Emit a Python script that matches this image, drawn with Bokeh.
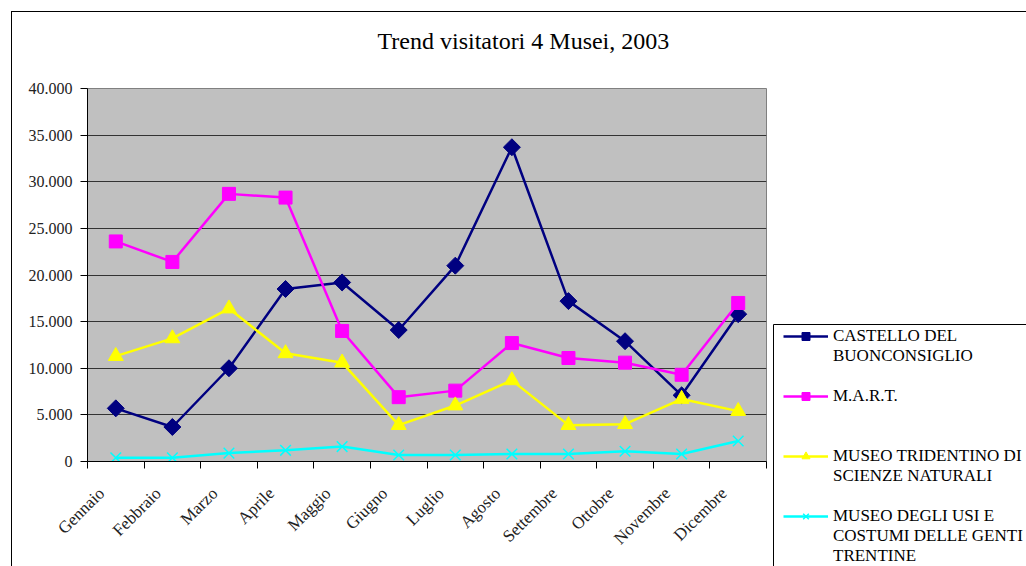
import math
from bokeh.plotting import figure
from bokeh.layouts import row
from bokeh.models import (Range1d, FixedTicker, LinearAxis, Legend, LegendItem)
from bokeh.embed import file_html
from bokeh.resources import INLINE

months = ["Gennaio", "Febbraio", "Marzo", "Aprile", "Maggio", "Giugno", "Luglio",
          "Agosto", "Settembre", "Ottobre", "Novembre", "Dicembre"]
castello = [5700, 3700, 10000, 18500, 19200, 14100, 21000, 33700, 17200, 12900, 7100, 15800]
mart = [23600, 21400, 28700, 28300, 14000, 6900, 7600, 12700, 11100, 10600, 9300, 17000]
tridentino = [11300, 13200, 16400, 11600, 10600, 3900, 6000, 8700, 3900, 4000, 6700, 5400]
usi = [400, 400, 900, 1200, 1600, 700, 700, 800, 800, 1100, 800, 2200]
series_names = [["CASTELLO DEL", "BUONCONSIGLIO"], ["M.A.R.T."],
                ["MUSEO TRIDENTINO DI", "SCIENZE NATURALI"],
                ["MUSEO DEGLI USI E", "COSTUMI DELLE GENTI", "TRENTINE"]]
y_ticks = [0, 5000, 10000, 15000, 20000, 25000, 30000, 35000, 40000]

FONT = "Liberation Serif"
xs = [i + 0.5 for i in range(len(months))]

p = figure(width=759, height=555, output_backend="svg", toolbar_location=None,
           x_range=Range1d(0, 12), y_range=Range1d(0, 40000),
           min_border_left=75, min_border_right=5, min_border_top=76, min_border_bottom=106,
           x_axis_location=None, y_axis_location=None,
           title="Trend visitatori 4 Musei, 2003\n")
p.frame_align = False
p.background_fill_color = "#C0C0C0"
p.border_fill_color = "white"
p.outline_line_color = "#808080"

p.title.text_font = FONT
p.title.text_font_size = "24px"
p.title.text_font_style = "normal"
p.title.text_color = "black"
p.title.align = "left"
p.title.offset = 290
p.title.standoff = 17

# y axis
yax = LinearAxis(ticker=FixedTicker(ticks=y_ticks, minor_ticks=[]),
                 major_label_overrides={v: f"{v:,}".replace(",", ".") for v in y_ticks})
yax.major_tick_out = 7
yax.major_tick_in = 0
yax.minor_tick_line_color = None
yax.axis_line_color = "black"
yax.major_tick_line_color = "black"
yax.major_label_text_font = FONT
yax.major_label_text_font_size = "16px"
yax.major_label_text_color = "#222222"
yax.major_label_standoff = 8
p.add_layout(yax, "left")

# x axis: labels near centres, tick marks at boundaries (minor ticks)
label_pos = [x - 0.25 for x in xs]
xax = LinearAxis(ticker=FixedTicker(ticks=label_pos, minor_ticks=list(range(13))),
                 major_label_overrides={lp: m for lp, m in zip(label_pos, months)})
xax.major_tick_line_color = None
xax.major_tick_out = 0
xax.major_tick_in = 0
xax.minor_tick_out = 7
xax.minor_tick_in = 0
xax.minor_tick_line_color = "black"
xax.axis_line_color = "black"
xax.major_label_orientation = math.pi / 4
xax.major_label_text_font = FONT
xax.major_label_text_font_size = "17px"
xax.major_label_text_color = "#222222"
xax.major_label_standoff = 22
p.add_layout(xax, "below")

p.xgrid.visible = False
p.ygrid.ticker = FixedTicker(ticks=y_ticks)
p.ygrid.grid_line_color = "#333333"
p.ygrid.grid_line_width = 1

colors = ["#000080", "#FF00FF", "#FFFF00", "#00FFFF"]
kinds = ["diamond", "square", "triangle", "x"]
sizes = [12, 13, 15, 15]
data = [castello, mart, tridentino, usi]


def draw(fig, xv, yv, col, kind, size):
    lr = fig.line(xv, yv, line_color=col, line_width=2.5)
    if kind == "x":
        mr = fig.scatter(xv, yv, marker="x", size=size, line_color=col, line_width=1.5)
    elif kind == "diamond":
        mr = fig.scatter(xv, yv, marker="square", angle=math.pi / 4, size=size,
                         fill_color=col, line_color=col)
    else:
        mr = fig.scatter(xv, yv, marker=kind, size=size, fill_color=col, line_color=col)
    return lr, mr


for vals, col, kind, sz in zip(data, colors, kinds, sizes):
    draw(p, xs, vals, col, kind, sz)

# legend panel (its own small figure; frame outline = legend box)
p2 = figure(width=256, height=555, output_backend="svg", toolbar_location=None,
            x_range=Range1d(0, 1), y_range=Range1d(0, 1),
            min_border_left=2, min_border_right=0, min_border_top=312, min_border_bottom=0,
            x_axis_location=None, y_axis_location=None)
p2.frame_align = False
p2.xgrid.visible = False
p2.ygrid.visible = False
p2.background_fill_color = "white"
p2.border_fill_color = "white"
p2.outline_line_color = "black"

nan = float("nan")
blank = p2.line([nan], [nan], line_alpha=0)
# each legend line is one slot; an entry starts every 3 slots (60px), as in the reference
slot_lines = []
for k, (name_lines, col, kind, sz) in enumerate(zip(series_names, colors, kinds, sizes)):
    lr, mr = draw(p2, [nan], [nan], col, kind, sz)
    entry = [LegendItem(label=name_lines[0], renderers=[lr, mr])]
    entry += [LegendItem(label=t, renderers=[blank]) for t in name_lines[1:]]
    while len(entry) < 3 and k < len(series_names) - 1:
        entry.append(LegendItem(label=" ", renderers=[blank]))
    slot_lines += entry

legend = Legend(items=slot_lines, location=(10, 1))
legend.label_text_font = FONT
legend.label_text_font_size = "17px"
legend.label_text_color = "black"
legend.glyph_width = 45
legend.glyph_height = 20
legend.label_height = 20
legend.spacing = 0
legend.label_standoff = 5
legend.padding = 0
legend.margin = 0
legend.border_line_color = None
legend.background_fill_alpha = 0
p2.add_layout(legend)

layout = row(p, p2)
layout.margin = (11, 0, 0, 11)
layout.styles = {"border-left": "1px solid black", "border-top": "1px solid black"}

open("out.html", "w").write(file_html(layout, INLINE))
